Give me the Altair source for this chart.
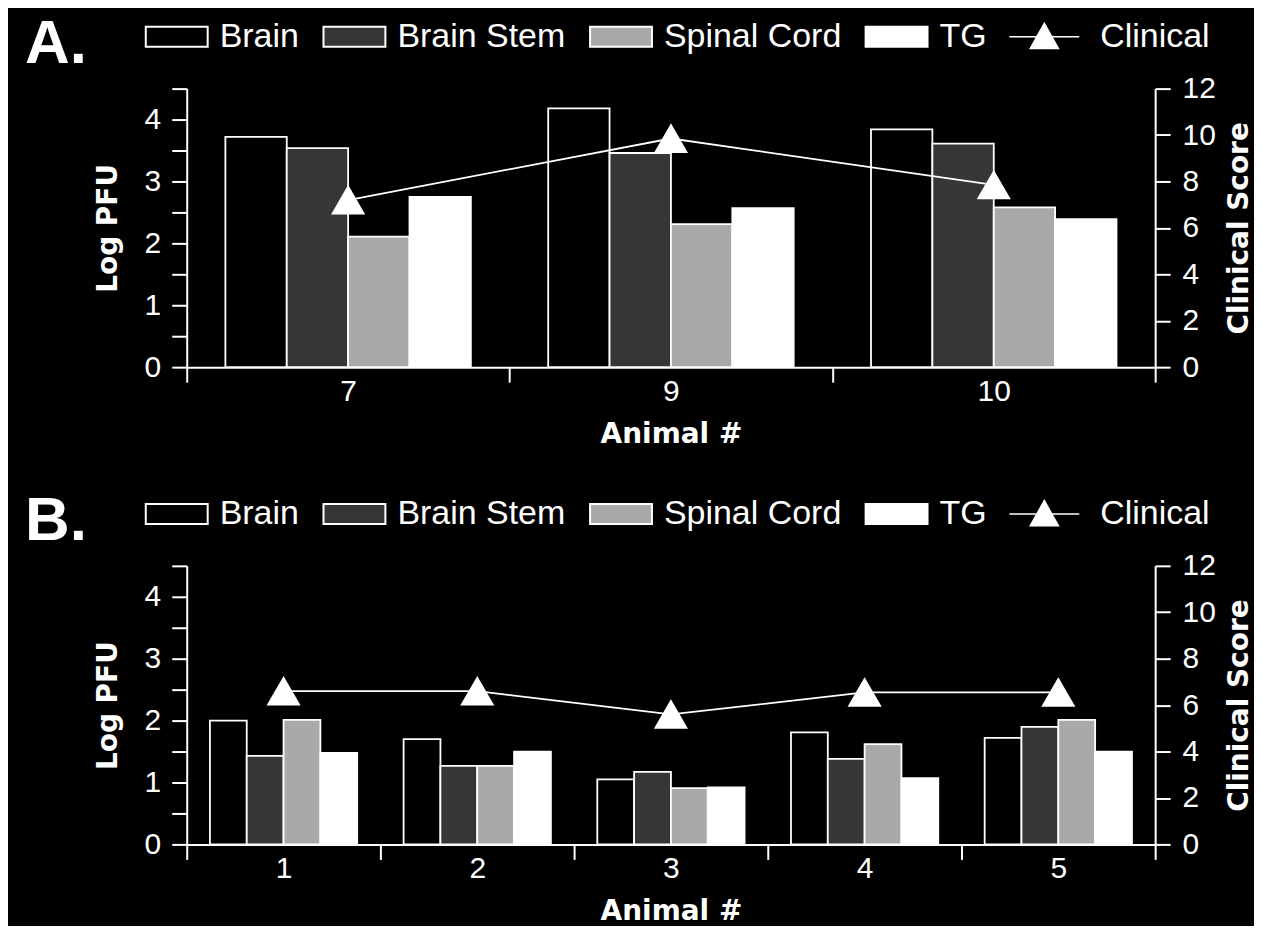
import altair as alt
import pandas as pd

# ---- data ----
tissues = ["Brain", "Brain Stem", "Spinal Cord", "TG"]
tissue_colors = ["#000000", "#363636", "#a9a9a9", "#ffffff"]

animals_a = ["7", "9", "10"]
brain_a = [3.72, 4.18, 3.84]
stem_a = [3.54, 3.46, 3.61]
cord_a = [2.11, 2.31, 2.58]
tg_a = [2.75, 2.57, 2.39]
clinical_a = [7.2, 9.85, 7.85]

animals_b = ["1", "2", "3", "4", "5"]
brain_b = [2.00, 1.70, 1.05, 1.81, 1.72]
stem_b = [1.43, 1.27, 1.17, 1.38, 1.90]
cord_b = [2.01, 1.27, 0.91, 1.62, 2.01]
tg_b = [1.48, 1.50, 0.92, 1.07, 1.50]
clinical_b = [6.6, 6.6, 5.6, 6.55, 6.55]

pfu_ticks = [0, 0.5, 1, 1.5, 2, 2.5, 3, 3.5, 4, 4.5]
clin_ticks = [0, 2, 4, 6, 8, 10, 12]

# legend glyphs: wide box and line-with-triangle (drawn larger than their nominal size)
RECT_PATH = "M-1.55,-0.5H1.55V0.5H-1.55Z"
CLIN_PATH = "M-1.75,0H1.75M0,-0.665L0.7,0.595H-0.7Z"

TICK_FONT = "Liberation Sans"
TITLE_FONT = "DejaVu Sans"


def long_table(animals, series):
    rows = []
    for i, a in enumerate(animals):
        for t, vals in zip(tissues, series):
            rows.append({"animal": a, "tissue": t, "pfu": vals[i]})
    return pd.DataFrame(rows)


def panel(label, animals, brain, stem, cord, tg, clinical):
    bars_df = long_table(animals, [brain, stem, cord, tg])
    clin_df = pd.DataFrame(
        {"animal": animals, "clinical": clinical, "series": ["Clinical"] * len(animals)}
    )

    xscale = alt.Scale(type="band", paddingInner=0, paddingOuter=0)
    xaxis = alt.Axis(
        title="Animal #",
        labelAngle=0,
        tickBand="extent",
        labelPadding=-6,
        titlePadding=14,
    )

    bars = (
        alt.Chart(bars_df)
        .mark_bar(stroke="white", strokeWidth=1.8)
        .encode(
            x=alt.X("animal:N", sort=animals, scale=xscale, axis=xaxis),
            xOffset=alt.XOffset(
                "tissue:N", sort=tissues,
                scale=alt.Scale(paddingInner=0, paddingOuter=0.63),
            ),
            y=alt.Y(
                "pfu:Q",
                scale=alt.Scale(domain=[0, 4.5], nice=False),
                axis=alt.Axis(
                    title="Log PFU",
                    values=pfu_ticks,
                    labelExpr="datum.value % 1 === 0 ? format(datum.value, 'd') : ''",
                    labelPadding=11,
                    titlePadding=22,
                ),
            ),
            fill=alt.Fill(
                "tissue:N",
                sort=tissues,
                scale=alt.Scale(domain=tissues, range=tissue_colors),
                legend=alt.Legend(
                    title=None,
                    orient="none",
                    legendX=-31,
                    legendY=-73,
                    direction="horizontal",
                    symbolType=RECT_PATH,
                    symbolSize=1600,
                    symbolStrokeColor="white",
                    symbolStrokeWidth=2,
                    labelOffset=22,
                    columnPadding=20,
                    labelLimit=0,
                ),
            ),
        )
    )

    clin_axis = alt.Axis(
        orient="right",
        title="Clinical Score",
        values=clin_ticks,
        titleAngle=270,
        titleBaseline="top",
        titlePadding=10,
        labelPadding=12,
    )
    clin_y = alt.Y("clinical:Q", scale=alt.Scale(domain=[0, 12], nice=False), axis=clin_axis)
    clin_x = alt.X("animal:N", sort=animals, scale=xscale, axis=xaxis, bandPosition=0.5)

    line = (
        alt.Chart(clin_df)
        .mark_line(color="white", strokeWidth=1.8)
        .encode(x=clin_x, y=clin_y)
    )
    pts = (
        alt.Chart(clin_df)
        .mark_point(shape="triangle-up", filled=True, size=1000, opacity=1,
                    stroke="white", strokeWidth=1.5)
        .encode(
            x=clin_x,
            y=clin_y,
            color=alt.Color(
                "series:N",
                scale=alt.Scale(domain=["Clinical"], range=["white"]),
                legend=alt.Legend(
                    title=None,
                    orient="none",
                    legendX=838,
                    legendY=-73,
                    symbolType=CLIN_PATH,
                    symbolSize=1600,
                    symbolStrokeColor="white",
                    symbolFillColor="white",
                    symbolStrokeWidth=1.6,
                    labelOffset=35,
                    labelLimit=0,
                ),
            ),
        )
    )

    return (
        alt.layer(bars, alt.layer(line, pts))
        .resolve_scale(y="independent")
        .properties(
            width=970,
            height=279,
            title=alt.Title(
                label,
                anchor="start",
                frame="group",
                dx=-162,
                dy=64,
                fontSize=62,
                font=TICK_FONT,
                fontWeight="bold",
                color="white",
            ),
        )
    )


chart_a = panel("A.", animals_a, brain_a, stem_a, cord_a, tg_a, clinical_a)
chart_b = panel("B.", animals_b, brain_b, stem_b, cord_b, tg_b, clinical_b)

chart = (
    alt.vconcat(chart_a, chart_b, spacing=42)
    .resolve_scale(fill="independent", color="independent", xOffset="independent")
    .resolve_legend(fill="independent", color="independent")
    .properties(
        background="black",
        padding={"left": 17, "top": 4, "right": 0, "bottom": 0},
    )
    .configure_view(stroke=None)
    .configure_axis(
        domainColor="white",
        domainWidth=2,
        tickColor="white",
        tickWidth=2,
        tickSize=15,
        grid=False,
        labelColor="white",
        labelFont=TICK_FONT,
        labelFontSize=30,
        titleColor="white",
        titleFont=TITLE_FONT,
        titleFontSize=28,
        titleFontWeight="bold",
    )
    .configure_legend(
        labelColor="white",
        labelFont=TICK_FONT,
        labelFontSize=34,
        padding=0,
    )
)

chart.save("out.html", embed_options={"renderer": "svg", "actions": False})
